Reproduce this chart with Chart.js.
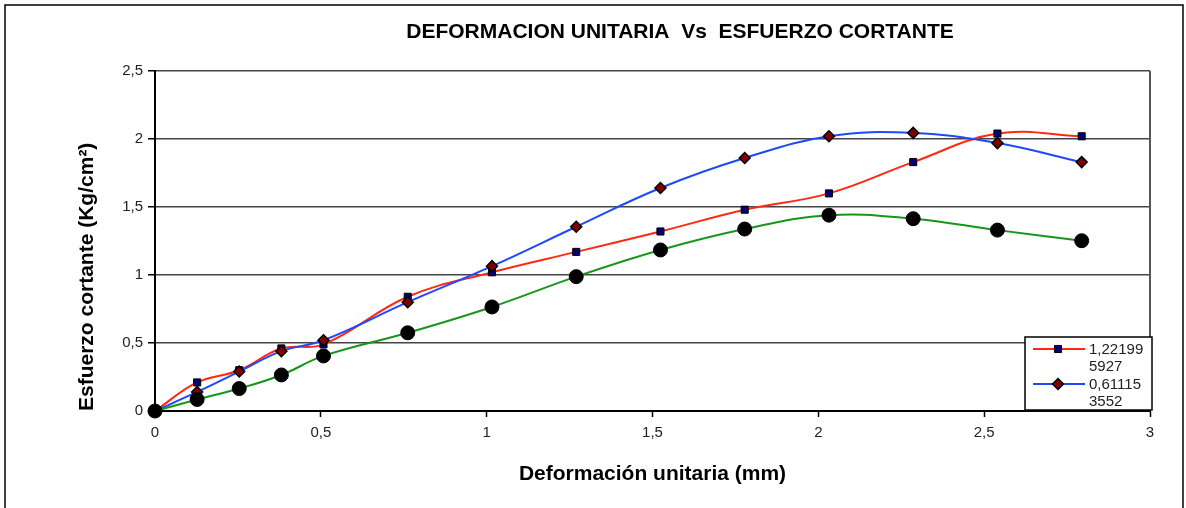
<!DOCTYPE html>
<html lang="es">
<head>
    <meta charset="UTF-8">
    <title>Deformacion unitaria vs esfuerzo cortante</title>
    <script src="https://cdn.jsdelivr.net/npm/chart.js"></script>
    <style>
        body { margin: 0; background: #fff; }
        #wrap { position: relative; width: 1186px; height: 508px; }
    </style>
</head>
<body>
    <div id="wrap">
        <canvas id="chart" width="1186" height="508"></canvas>
    </div>

    <script>
        // data
        const strain = [0, 0.127, 0.254, 0.381, 0.508, 0.762, 1.016, 1.27, 1.524, 1.778, 2.032, 2.286, 2.54, 2.794];
        const seriesRed = [0, 0.21, 0.30, 0.46, 0.49, 0.84, 1.02, 1.17, 1.32, 1.48, 1.60, 1.83, 2.04, 2.02];
        const seriesBlue = [0, 0.14, 0.29, 0.44, 0.52, 0.80, 1.065, 1.355, 1.64, 1.86, 2.02, 2.045, 1.97, 1.83];
        const seriesGreen = [0, 0.085, 0.165, 0.265, 0.405, 0.575, 0.765, 0.988, 1.184, 1.338, 1.44, 1.414, 1.33, 1.252];
        const seriesNames = ['1,221995927', '0,611153552', ''];
        const yTicks = [0, 0.5, 1, 1.5, 2, 2.5];
        const xTicks = [0, 0.5, 1, 1.5, 2, 2.5, 3];

        const FONT = "'Liberation Sans', Arial, sans-serif";
        const RED = '#ff2a10';
        const BLUE = '#1f48ff';
        const GREEN = '#16961a';

        const toPoints = ys => ys.map((y, i) => ({ x: strain[i], y: y }));
        const comma = v => String(v).replace('.', ',');

        // title, frame and legend drawn on the canvas
        const decor = {
            id: 'decor',
            beforeDatasetsDraw(chart) {
                const { ctx, chartArea: a } = chart;
                ctx.save();
                ctx.strokeStyle = '#555';
                ctx.lineWidth = 2;
                ctx.beginPath();
                ctx.moveTo(a.right, a.top);
                ctx.lineTo(a.right, a.bottom);
                ctx.stroke();
                ctx.restore();
            },
            afterDraw(chart) {
                const { ctx } = chart;
                ctx.save();
                // outer frame
                ctx.strokeStyle = '#000';
                ctx.lineWidth = 1.5;
                ctx.strokeRect(5, 5, 1178, 520);

                // title
                ctx.fillStyle = '#000';
                ctx.font = 'bold 21px ' + FONT;
                ctx.textAlign = 'center';
                ctx.textBaseline = 'middle';
                ctx.fillText('DEFORMACION UNITARIA  Vs  ESFUERZO CORTANTE', 680, 32);

                // legend (green series has no entry)
                const bx = 1025, by = 337, bw = 127, bh = 73;
                ctx.fillStyle = '#fff';
                ctx.fillRect(bx, by, bw, bh);
                ctx.strokeStyle = '#000';
                ctx.lineWidth = 1.5;
                ctx.strokeRect(bx, by, bw, bh);

                [0, 1].forEach((di, k) => {
                    const ds = chart.data.datasets[di];
                    const ly = by + 12 + k * 35;
                    ctx.strokeStyle = ds.borderColor;
                    ctx.lineWidth = 2;
                    ctx.beginPath();
                    ctx.moveTo(bx + 8, ly);
                    ctx.lineTo(bx + 60, ly);
                    ctx.stroke();
                    ctx.fillStyle = ds.pointBackgroundColor;
                    ctx.strokeStyle = ds.pointBorderColor;
                    ctx.lineWidth = ds.pointBorderWidth;
                    Chart.helpers.drawPoint(ctx, {
                        pointStyle: ds.pointStyle,
                        radius: ds.pointRadius,
                        borderWidth: ds.pointBorderWidth,
                        rotation: 0
                    }, bx + 33, ly);
                    const name = ds.label;
                    ctx.fillStyle = '#222';
                    ctx.font = '15px ' + FONT;
                    ctx.textAlign = 'left';
                    ctx.textBaseline = 'middle';
                    ctx.fillText(name.slice(0, 7), bx + 64, ly + 1);
                    ctx.fillText(name.slice(7), bx + 64, ly + 18);
                });
                ctx.restore();
            }
        };

        new Chart(document.getElementById('chart'), {
            type: 'line',
            data: {
                datasets: [
                    {
                        label: seriesNames[0],
                        data: toPoints(seriesRed),
                        borderColor: RED,
                        borderWidth: 2,
                        pointStyle: 'rect',
                        pointRadius: 5,
                        pointBackgroundColor: '#000070',
                        pointBorderColor: '#000',
                        pointBorderWidth: 1,
                        order: 2
                    },
                    {
                        label: seriesNames[1],
                        data: toPoints(seriesBlue),
                        borderColor: BLUE,
                        borderWidth: 2,
                        pointStyle: 'rectRot',
                        pointRadius: 5.5,
                        pointBackgroundColor: '#800000',
                        pointBorderColor: '#000',
                        pointBorderWidth: 1.5,
                        order: 1
                    },
                    {
                        label: seriesNames[2],
                        data: toPoints(seriesGreen),
                        borderColor: GREEN,
                        borderWidth: 2,
                        pointStyle: 'circle',
                        pointRadius: 7,
                        pointBackgroundColor: '#000',
                        pointBorderColor: '#000',
                        pointBorderWidth: 1,
                        order: 0
                    }
                ]
            },
            options: {
                responsive: false,
                animation: false,
                devicePixelRatio: 1,
                clip: false,
                elements: { line: { tension: 0.4 } },
                layout: { padding: { left: 0, top: 71, right: 36, bottom: 0 } },
                plugins: {
                    legend: { display: false },
                    title: { display: false },
                    tooltip: { enabled: false }
                },
                scales: {
                    x: {
                        type: 'linear',
                        min: 0,
                        max: 3,
                        afterBuildTicks: s => { s.ticks = xTicks.map(v => ({ value: v })); },
                        afterFit: s => { s.height = 97; },
                        ticks: {
                            callback: comma,
                            color: '#222',
                            padding: 7,
                            maxRotation: 0,
                            font: { family: FONT, size: 15 }
                        },
                        grid: {
                            drawOnChartArea: false,
                            tickLength: 6,
                            tickColor: '#000',
                            tickWidth: 1.5
                        },
                        border: { color: '#000', width: 2 },
                        title: {
                            display: true,
                            text: 'Deformación unitaria (mm)',
                            color: '#000',
                            font: { family: FONT, size: 21, weight: 'bold' },
                            padding: { top: 0, bottom: 21 }
                        }
                    },
                    y: {
                        min: 0,
                        max: 2.5,
                        afterBuildTicks: s => { s.ticks = yTicks.map(v => ({ value: v })); },
                        afterFit: s => { s.width = 155; },
                        ticks: {
                            callback: comma,
                            color: '#222',
                            padding: 5,
                            font: { family: FONT, size: 15 }
                        },
                        grid: {
                            color: '#444',
                            lineWidth: 1.5,
                            tickLength: 7,
                            tickColor: '#000',
                            tickWidth: 1.5
                        },
                        border: { color: '#000', width: 2 },
                        title: {
                            display: true,
                            text: 'Esfuerzo cortante (Kg/cm²)',
                            align: 'start',
                            color: '#000',
                            font: { family: FONT, size: 21, weight: 'bold' },
                            padding: { top: 75, bottom: 0 }
                        }
                    }
                }
            },
            plugins: [decor]
        });
    </script>
</body>
</html>
